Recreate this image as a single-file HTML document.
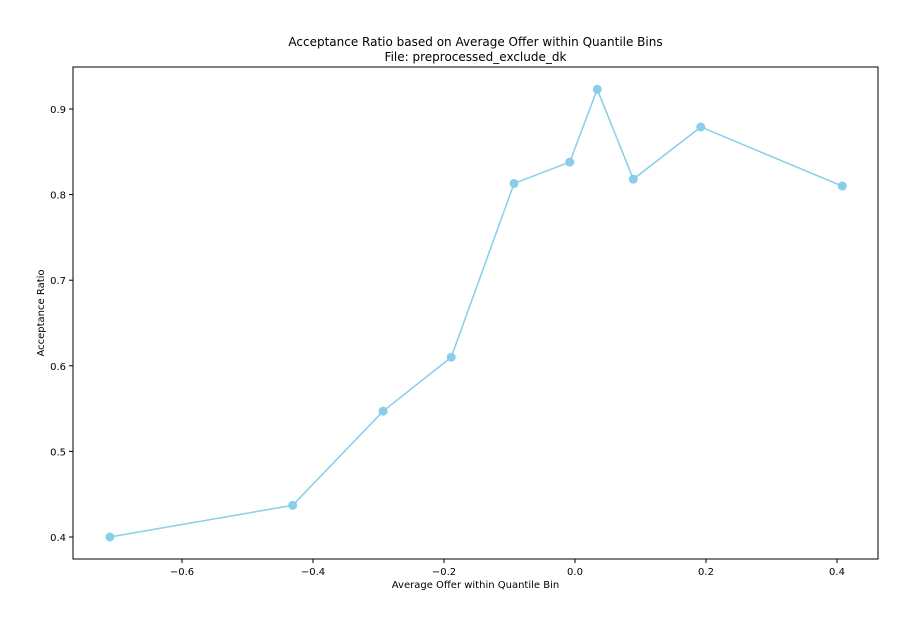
<!DOCTYPE html>
<html><head><meta charset="utf-8"><style>
body{margin:0;background:#fff;font-family:"DejaVu Sans","Liberation Sans",sans-serif;}
svg text{font-family:"DejaVu Sans","Liberation Sans",sans-serif;fill:#000;}
</style></head><body>
<svg id="chart" width="914" height="626" xmlns="http://www.w3.org/2000/svg">
<rect width="914" height="626" fill="#fff"/>
<text x="475.5" y="46" font-size="12" text-anchor="middle">Acceptance Ratio based on Average Offer within Quantile Bins</text>
<text x="475.5" y="61" font-size="12" text-anchor="middle">File: preprocessed_exclude_dk</text>
<g id="xt"></g>
<g id="yt"></g>
<g id="plot"></g>
<rect x="73" y="67" width="805" height="492" fill="none" stroke="#000" stroke-width="1"/>
<text x="475.5" y="588" font-size="10" text-anchor="middle">Average Offer within Quantile Bin</text>
<text transform="translate(44,313) rotate(-90)" font-size="10" text-anchor="middle">Acceptance Ratio</text>
</svg>
<script>
const xValues=[-0.710,-0.431,-0.293,-0.189,-0.093,-0.008,0.034,0.089,0.192,0.408];
const yValues=[0.400,0.437,0.547,0.610,0.813,0.838,0.923,0.818,0.879,0.810];
const xTicks=[-0.6,-0.4,-0.2,0.0,0.2,0.4];
const xTickLabels=["\u22120.6","\u22120.4","\u22120.2","0.0","0.2","0.4"];
const yTicks=[0.4,0.5,0.6,0.7,0.8,0.9];
const yTickLabels=["0.4","0.5","0.6","0.7","0.8","0.9"];
const NS="http://www.w3.org/2000/svg";
function X(v){return 575+v*655;}
function Y(v){return 537-(v-0.4)*856;}
function mk(t,a,p){const e=document.createElementNS(NS,t);for(const k in a)e.setAttribute(k,a[k]);p.appendChild(e);return e;}
const xt=document.getElementById('xt'),yt=document.getElementById('yt'),plot=document.getElementById('plot');
xTicks.forEach((v,i)=>{
  const l=mk('line',{x1:X(v),x2:X(v),y1:559,y2:563,stroke:'#000'},xt);
  
  
  const t=mk('text',{x:X(v),y:575,'font-size':10,'text-anchor':'middle'},xt);
  t.textContent=xTickLabels[i];
  
  
});
yTicks.forEach((v,i)=>{
  const l=mk('line',{x1:69,x2:73,y1:Y(v),y2:Y(v),stroke:'#000'},yt);
  
  
  const t=mk('text',{x:66,y:Y(v)+4,'font-size':10,'text-anchor':'end'},yt);
  t.textContent=yTickLabels[i];
  
  
});
const pts=xValues.map((v,i)=>X(v)+','+Y(yValues[i])).join(' ');
const pl=mk('polyline',{points:pts,fill:'none',stroke:'#87ceeb','stroke-width':1.5},plot);


xValues.forEach((v,i)=>{
  const c=mk('circle',{cx:X(v),cy:Y(yValues[i]),r:4.5,fill:'#87ceeb'},plot);
  
  
});
</script>
</body></html>
